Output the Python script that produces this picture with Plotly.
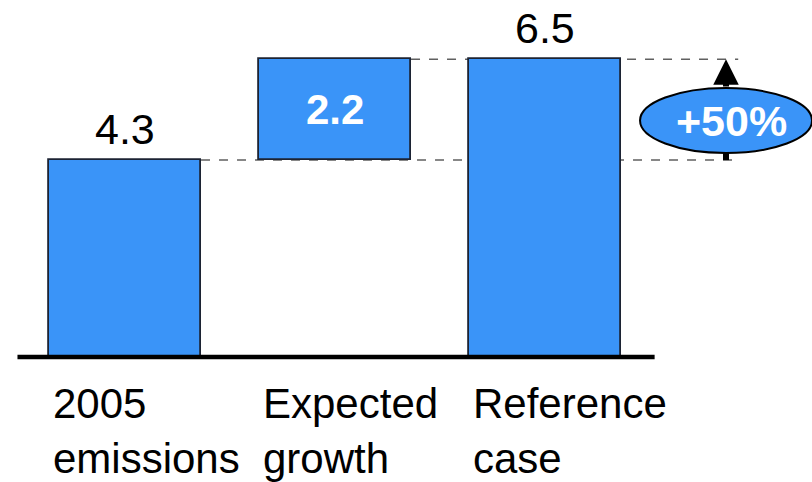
import plotly.graph_objects as go

# Waterfall: 2005 emissions + expected growth = reference case
categories = ["2005<br>emissions", "Expected<br>growth", "Reference<br>case"]
bases = [0.0, 4.3, 0.0]
heights = [4.3, 2.2, 6.5]
value_labels = ["4.3", "2.2", "6.5"]
growth_label = "+50%"

BLUE = "#3a94f8"
EDGE = "#1c2333"
FONT = "Liberation Sans, Arial, Helvetica, sans-serif"
BAR_W = 0.724

xs = list(range(len(categories)))
tops = [b + h for b, h in zip(bases, heights)]

fig = go.Figure()
fig.add_trace(go.Bar(
    x=xs, y=heights, base=bases, width=BAR_W,
    marker=dict(color=BLUE, line=dict(color=EDGE, width=1.8)),
    hoverinfo="skip", showlegend=False,
))

shapes = []
annotations = []

# dashed guide lines at the start level and the reference level
guide_end = 2.92
shapes.append(dict(type="line", layer="below", xref="x", yref="y",
                   x0=xs[0] + BAR_W / 2, x1=guide_end, y0=tops[0], y1=tops[0],
                   line=dict(color="#606060", width=1.4, dash="dash")))
shapes.append(dict(type="line", layer="below", xref="x", yref="y",
                   x0=xs[1] + BAR_W / 2, x1=guide_end, y0=tops[2], y1=tops[2],
                   line=dict(color="#606060", width=1.4, dash="dash")))

# baseline
shapes.append(dict(type="line", layer="above", xref="x", yref="y",
                   x0=xs[0] - BAR_W / 2 - 0.15, x1=xs[2] + BAR_W / 2 + 0.16,
                   y0=0, y1=0, line=dict(color="black", width=4.5)))

# growth arrow and ellipse badge
arrow_x = 2.862
ell_x0, ell_x1 = arrow_x - 0.4095, arrow_x + 0.4095
ell_y0, ell_y1 = 4.454, 5.873
shapes.append(dict(type="line", layer="above", xref="x", yref="y",
                   x0=arrow_x, x1=arrow_x, y0=tops[0], y1=(ell_y0 + ell_y1) / 2,
                   line=dict(color="black", width=6)))
shapes.append(dict(type="circle", layer="above", xref="x", yref="y",
                   x0=ell_x0, x1=ell_x1, y0=ell_y0, y1=ell_y1,
                   fillcolor=BLUE, line=dict(color="black", width=2)))
annotations.append(dict(x=arrow_x, y=tops[2], ax=arrow_x, ay=ell_y1,
                        xref="x", yref="y", axref="x", ayref="y",
                        text="", showarrow=True, arrowhead=2,
                        arrowwidth=6, arrowsize=0.85, arrowcolor="black",
                        standoff=0, startstandoff=0))
annotations.append(dict(x=arrow_x, y=(ell_y0 + ell_y1) / 2, xref="x", yref="y",
                        text="<b>%s</b>" % growth_label, showarrow=False,
                        xshift=5, font=dict(family=FONT, size=43, color="white")))

# value labels
for i, (lbl, b, h) in enumerate(zip(value_labels, bases, heights)):
    if b > 0:
        annotations.append(dict(x=xs[i], y=b + h / 2, xref="x", yref="y",
                                text="<b>%s</b>" % lbl, showarrow=False,
                                font=dict(family=FONT, size=42, color="white")))
    else:
        annotations.append(dict(x=xs[i], y=b + h, xref="x", yref="y",
                                text=lbl, showarrow=False, yanchor="bottom",
                                yshift=5, font=dict(family=FONT, size=43, color="black")))

# category labels, left-aligned under each bar
for i, cat in enumerate(categories):
    annotations.append(dict(x=xs[i] - BAR_W / 2, y=0, xref="x", yref="y",
                            text=cat, showarrow=False, xanchor="left",
                            yanchor="top", align="left", yshift=-21, xshift=2,
                            font=dict(family=FONT, size=42, color="black")))

fig.update_layout(
    width=812, height=482,
    margin=dict(l=0, r=0, t=0, b=0),
    paper_bgcolor="white", plot_bgcolor="white",
    xaxis=dict(range=[-0.5952, 3.2714], visible=False, fixedrange=True),
    yaxis=dict(range=[-2.729, 7.795], visible=False, fixedrange=True),
    shapes=shapes, annotations=annotations,
    bargap=0,
)

fig.write_html("out.html")
